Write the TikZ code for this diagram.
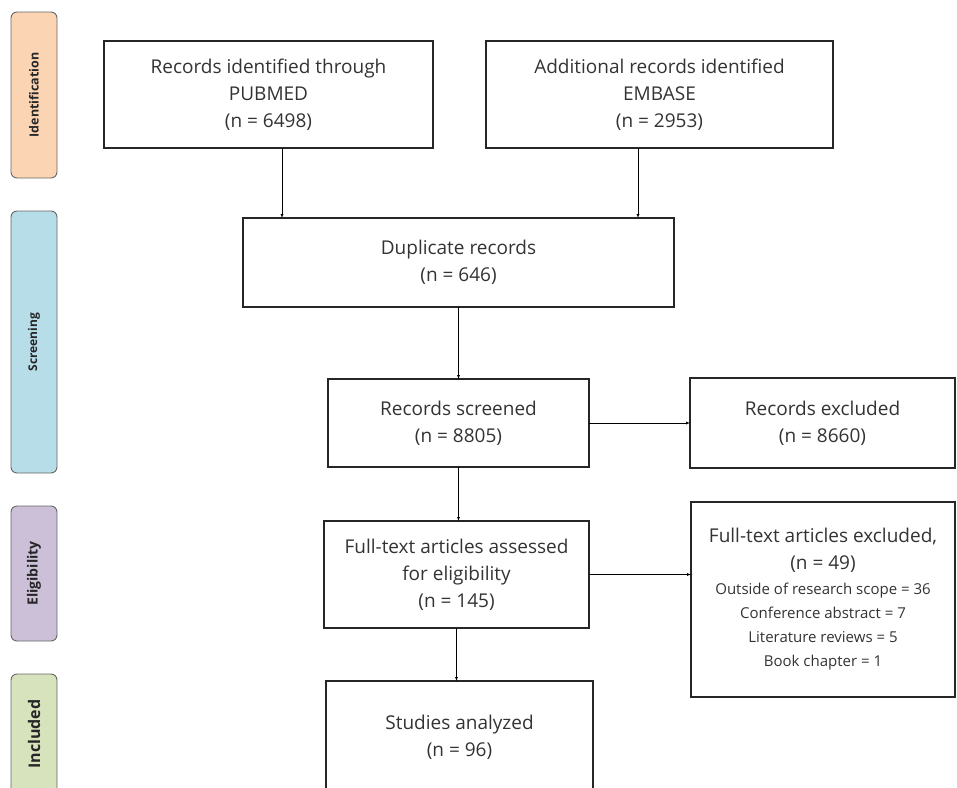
\documentclass[tikz,border=0pt]{standalone}
\usepackage{fontspec}
\setmainfont{Open Sans}
\usetikzlibrary{calc}

\definecolor{idcol}{HTML}{FBD4B4}
\definecolor{scrcol}{HTML}{B7DDE8}
\definecolor{eligcol}{HTML}{CCC0D9}
\definecolor{inclcol}{HTML}{D7E3BC}

\begin{document}
\begin{tikzpicture}[x=1pt,y=-1pt,
    box/.style={draw=black!85,line width=1.2pt,inner sep=0pt,outer sep=0pt,
      align=center,text=black!80,font=\fontsize{19}{27}\selectfont},
    phase/.style={draw=black!60,line width=0.9pt,rounded corners=6pt,rotate=90,
      inner sep=0pt,minimum height=46pt,text=black!85},
    arr/.style={-latex,thin}]
    \clip (0,0) rectangle (957,787);

    % phase bars
    \node[phase,fill=idcol,minimum width=166pt,font=\bfseries\fontsize{12.5}{14}\selectfont]
      (ident) at (34,95) {Identification};
    \node[phase,fill=scrcol,minimum width=262pt,font=\bfseries\fontsize{12}{14}\selectfont]
      (screen) at (34,342) {Screening};
    \node[phase,fill=eligcol,minimum width=135pt,font=\bfseries\fontsize{14}{16}\selectfont]
      (elig) at (34,573.5) {Eligibility};
    \node[phase,fill=inclcol,minimum width=120pt,font=\bfseries\fontsize{16}{18}\selectfont]
      (incl) at (34,734) {Included};

    % boxes
    \node[box,minimum width=329pt,minimum height=107pt] (pubmed) at (268.5,94.5)
      {Records identified through\\PUBMED\\(n = 6498)};
    \node[box,minimum width=347pt,minimum height=107pt] (embase) at (659.5,94.5)
      {Additional records identified\\EMBASE\\(n = 2953)};
    \node[box,minimum width=431pt,minimum height=89pt] (dup) at (458.5,262.5)
      {Duplicate records\\(n = 646)};
    \node[box,minimum width=261pt,minimum height=88pt] (screened) at (458.5,423)
      {Records screened\\(n = 8805)};
    \node[box,minimum width=265pt,minimum height=90pt] (excl) at (822.5,423)
      {Records excluded\\(n = 8660)};
    \node[box,minimum width=265pt,minimum height=107pt] (fulltext) at (456.5,574.5)
      {Full-text articles assessed\\for eligibility\\(n = 145)};
    \node[box,minimum width=264pt,minimum height=195pt] (ftexcl) at (823,599.5)
      {Full-text articles excluded,\\(n = 49)\\[-2pt]
       \fontsize{15}{23}\selectfont Outside of research scope = 36\\[-3pt]
       \fontsize{15}{23}\selectfont Conference abstract = 7\\[-3pt]
       \fontsize{15}{23}\selectfont Literature reviews = 5\\[-3pt]
       \fontsize{15}{23}\selectfont Book chapter = 1};
    \node[box,minimum width=267pt,minimum height=112pt] (studies) at (459.5,737)
      {Studies analyzed\\(n = 96)};

    % arrows
    \draw[arr] ([xshift=13.5pt]pubmed.south) -- ([xshift=13.5pt]pubmed.south |- dup.north);
    \draw[arr] ([xshift=-21.5pt]embase.south) -- ([xshift=-21.5pt]embase.south |- dup.north);
    \draw[arr] (dup.south) -- (screened.north);
    \draw[arr] (screened.east) -- (excl.west);
    \draw[arr] (screened.south) -- (screened.south |- fulltext.north);
    \draw[arr] (fulltext.east) -- (fulltext.east -| ftexcl.west);
    \draw[arr] (fulltext.south) -- (fulltext.south |- studies.north);
\end{tikzpicture}
\end{document}
